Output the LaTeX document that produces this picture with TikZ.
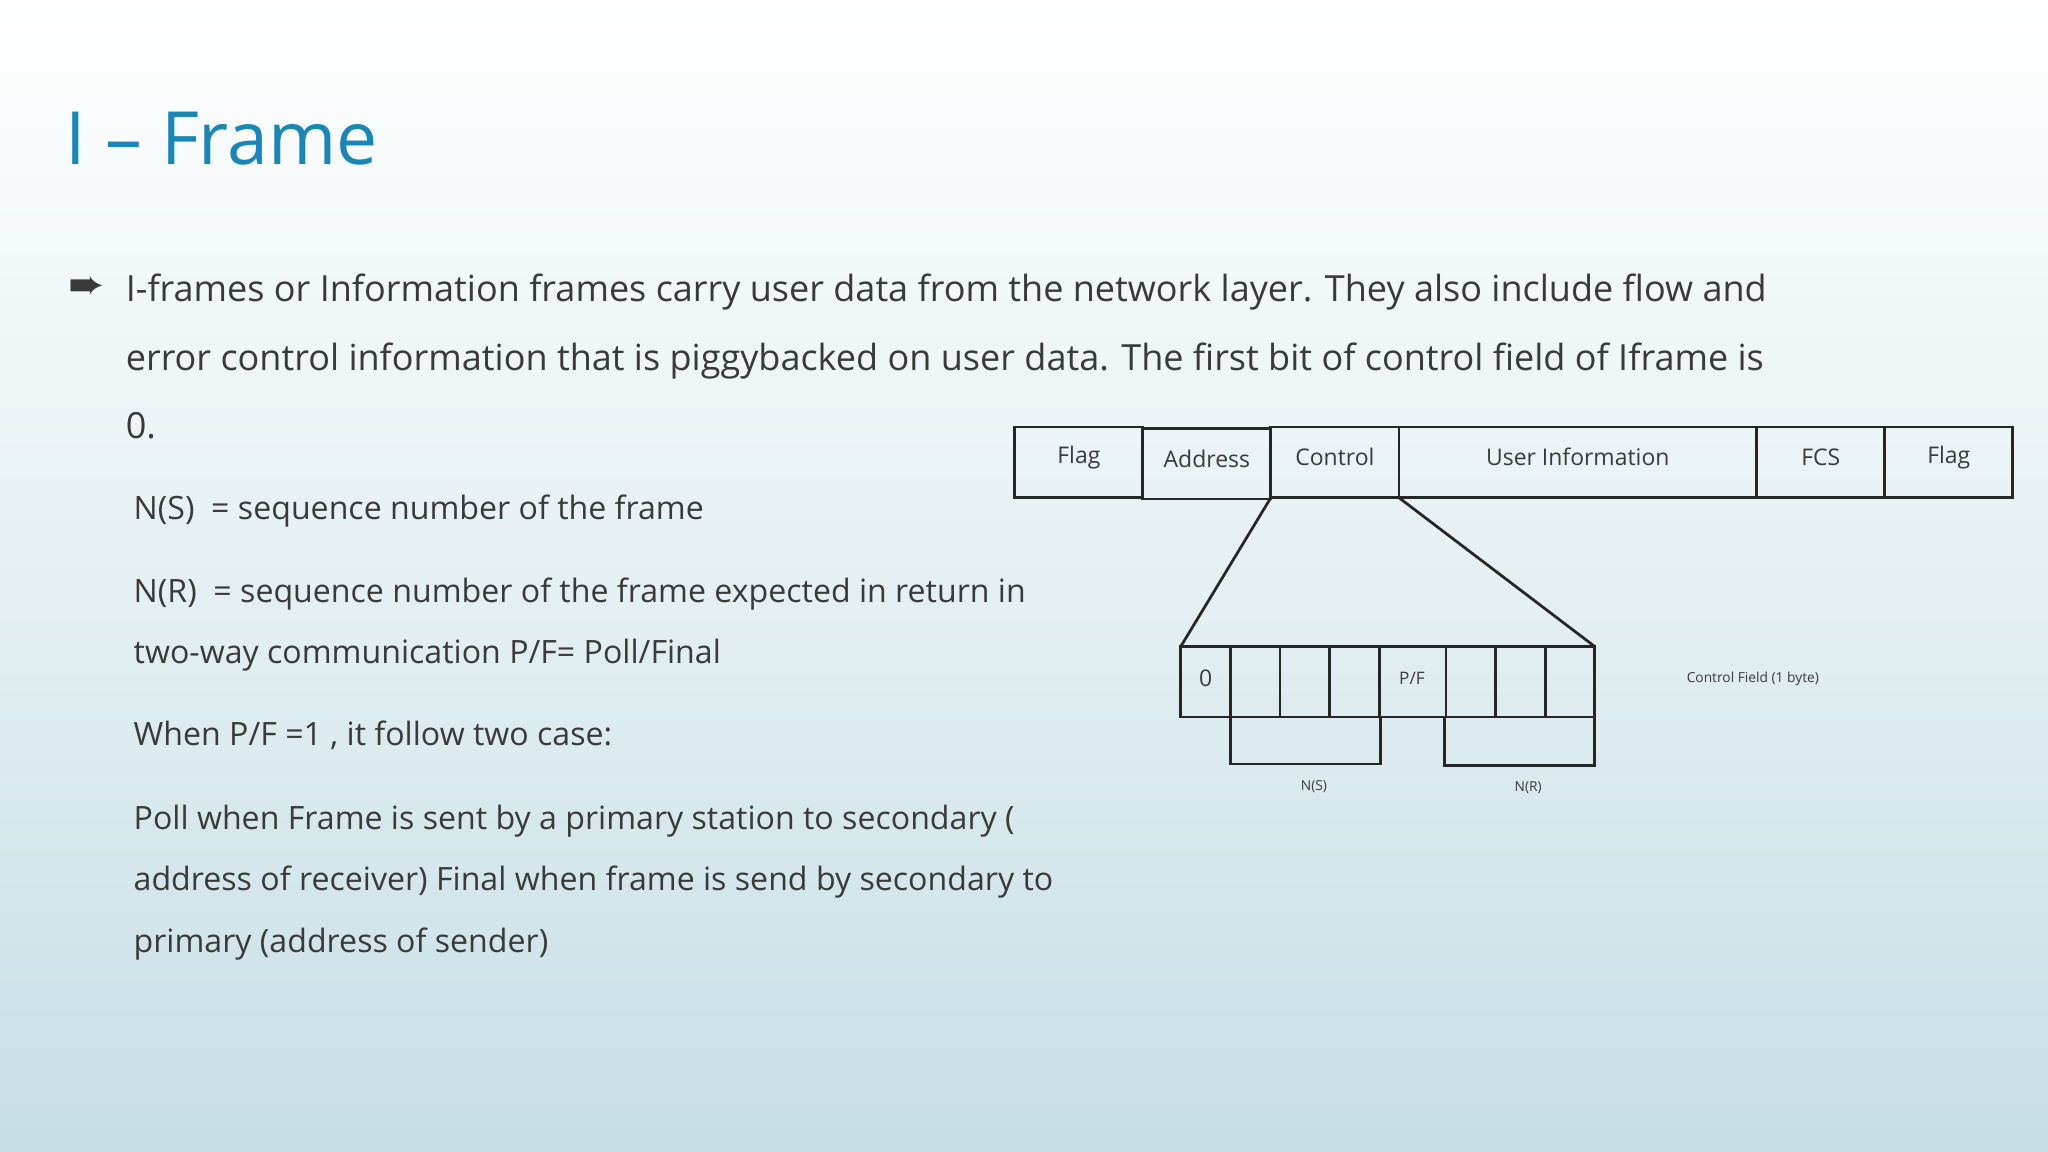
\documentclass[tikz,border=0pt]{standalone}
\usepackage{fontspec}
\setmainfont{Open Sans}
\newfontfamily\dejavu{DejaVu Sans}
\definecolor{txt}{HTML}{3A3A3A}
\definecolor{ttl}{HTML}{1A86B8}
\definecolor{bgb}{HTML}{C5DEE5}
\begin{document}
\begin{tikzpicture}[x=0.02cm,y=-0.02cm,
  body/.style={anchor=base west,inner sep=0,text=txt,font=\fontsize{14}{17}\selectfont},
  bodyb/.style={anchor=base west,inner sep=0,text=txt,font=\fontsize{15.7}{18}\selectfont},
  cell/.style={draw=black!85,line width=1.2pt},
  lab/.style={text=txt,font=\fontsize{10}{12}\selectfont},
  tiny/.style={text=txt,font=\fontsize{6}{7}\selectfont}]
\shade[top color=white,bottom color=bgb,middle color=bgb!45] (0,0) rectangle (1568,882);
\useasboundingbox (0,0) rectangle (1568,882);
\node[anchor=base west,inner sep=0,text=ttl,font=\fontsize{32}{38}\selectfont] (title) at (50,126) {I – Frame};
\node[anchor=base west,inner sep=0,text=txt,font=\dejavu\fontsize{19}{20}\selectfont] (bul) at (52,229) {➨};
\node[bodyb] (l1) at (96,231) {I-frames or Information frames carry user data from the network layer. They also include flow and};
\node[bodyb] (l2) at (96,284) {error control information that is piggybacked on user data. The first bit of control field of Iframe is};
\node[bodyb] (l3) at (96,336) {0.};
\node[body] (l4) at (102,398) {N(S) \ = sequence number of the frame};
\node[body] (l5) at (102,461) {N(R) \ = sequence number of the frame expected in return in};
\node[body] (l6) at (102,508) {two-way communication P/F= Poll/Final};
\node[body] (l7) at (102,571) {When P/F =1 , it follow two case:};
\node[body] (l8) at (102,635) {Poll when Frame is sent by a primary station to secondary (};
\node[body] (l9) at (102,682) {address of receiver) Final when frame is send by secondary to};
\node[body] (l10) at (102,729) {primary (address of sender)};
% top frame
\draw[cell] (777,327) rectangle (875,381); \node[lab] (f1) at (826,350) {Flag};
\draw[cell] (875,328) rectangle (973,382); \node[lab] (f2) at (924,351) {Address};
\draw[cell] (973,327) rectangle (1071,381); \node[lab] (f3) at (1022,350) {Control};
\draw[cell] (1071,327) rectangle (1345,381); \node[lab] (f4) at (1208,350) {User Information};
\draw[cell] (1345,327) rectangle (1443,381); \node[lab] (f5) at (1394,350) {FCS};
\draw[cell] (1443,327) rectangle (1541,381); \node[lab] (f6) at (1492,350) {Flag};
\coordinate (cl) at (973,381); \coordinate (cr) at (1071,381);
\coordinate (bl) at (904,495); \coordinate (br) at (1221,495);
\draw[cell] (cl) -- (bl); \draw[cell] (cr) -- (br);
% control bits
\foreach \a/\b in {904/942,942/980,980/1018,1018/1056,1056/1107,1107/1145,1145/1183,1183/1221}
  \draw[cell] (\a,495) rectangle (\b,549);
\node[lab] (b0) at (923,519) {0};
\node[lab,font=\fontsize{7.5}{9}\selectfont] (bpf) at (1081,519) {P/F};
\draw[cell] (942,549) rectangle (1057,585);
\draw[cell] (1106,549) rectangle (1221,586);
\node[tiny] (ns) at (1006,602) {N(S)};
\node[tiny] (nr) at (1170,603) {N(R)};
\node[tiny] (cf) at (1342,520) {Control Field (1 byte)};
\end{tikzpicture}
\end{document}
